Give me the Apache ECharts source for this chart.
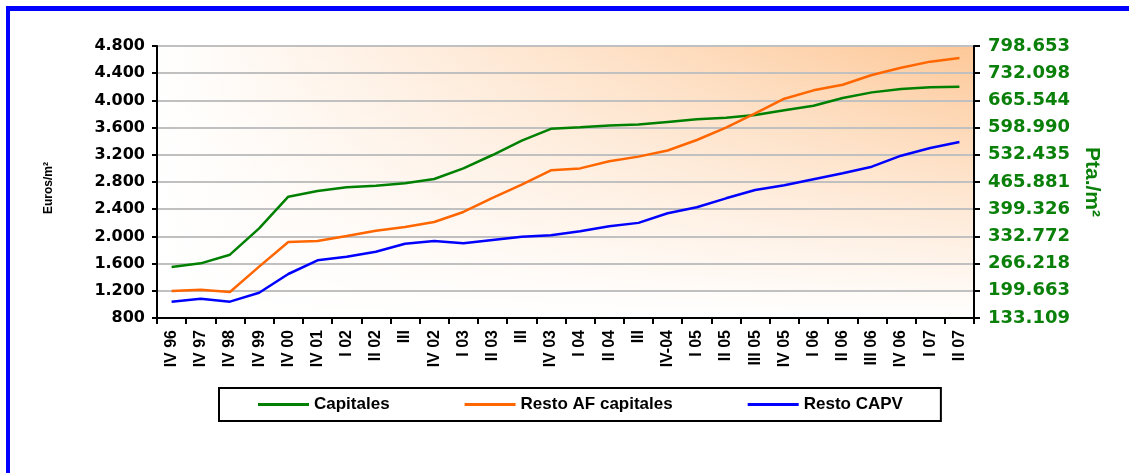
<!DOCTYPE html>
<html>
<head>
<meta charset="utf-8">
<script src="https://cdn.jsdelivr.net/npm/echarts@6/dist/echarts.min.js"></script>
<style>
  html, body { margin: 0; padding: 0; background: #fff; }
  #chart { width: 1129px; height: 473px; }
</style>
</head>
<body>
<div id="chart"></div>
<script>
// trimestres
const categories = ['IV 96', 'IV 97', 'IV 98', 'IV 99', 'IV 00', 'IV 01', 'I 02', 'II 02', 'III', 'IV 02',
  'I 03', 'II 03', 'III', 'IV 03', 'I 04', 'II 04', 'III', 'IV-04', 'I 05', 'II 05', 'III 05', 'IV 05',
  'I 06', 'II 06', 'III 06', 'IV 06', 'I 07', 'II 07']

// euros/m2
const capitales = [1550, 1604, 1731, 2119, 2584, 2668, 2722, 2746, 2781, 2844, 3001, 3197, 3408, 3582,
  3605, 3630, 3645, 3683, 3722, 3746, 3785, 3854, 3922, 4035, 4118, 4167, 4192, 4201]
const restoAF = [1197, 1216, 1182, 1555, 1918, 1932, 2006, 2084, 2138, 2212, 2359, 2565, 2760, 2972,
  3000, 3105, 3173, 3263, 3418, 3599, 3810, 4025, 4148, 4231, 4374, 4481, 4570, 4624]
const restoCAPV = [1040, 1084, 1040, 1172, 1447, 1648, 1701, 1775, 1893, 1932, 1898, 1947, 1994, 2016,
  2075, 2149, 2199, 2340, 2428, 2560, 2682, 2751, 2840, 2928, 3025, 3187, 3300, 3388]

const yMin = 800
const yMax = 4800
const yStep = 400
const PTA_PER_EURO = 166.386

// grid box (px)
const G = { left: 157, top: 46, right: 974, bottom: 318 }
const W = 1129, H = 473

function miles(n) {
  return String(Math.round(n)).replace(/\B(?=(\d{3})+(?!\d))/g, '.')
}

const chart = echarts.init(document.getElementById('chart'))
const ORANGE_BG = '#FDC898'

chart.setOption({
  animation: false,
  backgroundColor: '#fff',
  grid: { left: G.left, top: G.top, right: W - G.right, bottom: H - G.bottom },
  graphic: [
    // fondo degradado del area de trazado
    {
      type: 'rect', z: -20, silent: true,
      shape: { x: G.left, y: G.top, width: G.right - G.left, height: G.bottom - G.top },
      style: {
        fill: new echarts.graphic.LinearGradient(0, 0, 1, 0, [
          { offset: 0, color: '#FFFFFF' },
          { offset: 1, color: ORANGE_BG },
        ]),
      },
    },
    {
      type: 'rect', z: -10, silent: true,
      shape: { x: G.left, y: G.top, width: G.right - G.left, height: G.bottom - G.top },
      style: {
        fill: new echarts.graphic.LinearGradient(0, 0, 0, 1, [
          { offset: 0, color: 'rgba(255,255,255,0)' },
          { offset: 1, color: 'rgba(255,255,255,1)' },
        ]),
      },
    },
    // marco azul
    { type: 'rect', z: 50, silent: true, shape: { x: 6, y: 6, width: W - 6, height: 5 }, style: { fill: '#0000FF' } },
    { type: 'rect', z: 50, silent: true, shape: { x: 6, y: 6, width: 4, height: H - 6 }, style: { fill: '#0000FF' } },
  ],
  legend: {
    left: 219,
    top: 388,
    orient: 'horizontal',
    backgroundColor: '#fff',
    borderColor: '#000',
    borderWidth: 2,
    borderRadius: 0,
    padding: [8, 38, 8, 39],
    itemGap: 75,
    itemWidth: 51,
    itemHeight: 3,
    icon: 'rect',
    textStyle: { fontFamily: 'Liberation Sans', fontWeight: 'bold', fontSize: 17, lineHeight: 17, color: '#000' },
    data: ['Capitales', 'Resto AF capitales', 'Resto CAPV'],
  },
  xAxis: {
    type: 'category',
    data: categories,
    boundaryGap: true,
    axisLine: { lineStyle: { color: '#000', width: 2 } },
    axisTick: { show: true, length: 6, interval: 0, lineStyle: { color: '#000', width: 2 } },
    axisLabel: {
      interval: 0, rotate: 90, margin: 12,
      fontFamily: 'Liberation Sans', fontWeight: 'bold', fontSize: 16, color: '#000',
    },
    splitLine: { show: false },
  },
  yAxis: [
    {
      type: 'value',
      min: yMin, max: yMax, interval: yStep,
      name: 'Euros/m²',
      nameLocation: 'middle',
      nameGap: 102,
      nameRotate: 90,
      nameTextStyle: {
        fontFamily: 'Liberation Sans', fontWeight: 'bold', fontSize: 12, color: '#000',
        padding: [0, 12, 0, 0],
      },
      axisLine: { show: true, lineStyle: { color: '#000', width: 2 } },
      axisTick: { show: true, length: 5, lineStyle: { color: '#000', width: 2 } },
      axisLabel: {
        margin: 12, formatter: v => miles(v),
        fontFamily: 'DejaVu Sans', fontWeight: 'bold', fontSize: 16, color: '#000',
      },
      splitLine: { show: true, lineStyle: { color: '#C0C0C0', width: 2 } },
    },
    {
      type: 'value',
      position: 'right',
      min: yMin, max: yMax, interval: yStep,
      name: 'Pta./m²',
      nameLocation: 'middle',
      nameGap: 101,
      nameRotate: -90,
      nameTextStyle: { fontFamily: 'Liberation Sans', fontWeight: 'bold', fontSize: 21, color: '#0A800A' },
      axisLine: { show: true, lineStyle: { color: '#000', width: 2 } },
      axisTick: { show: true, length: 6, lineStyle: { color: '#000', width: 2 } },
      axisLabel: {
        margin: 14, formatter: v => miles(v * PTA_PER_EURO),
        fontFamily: 'DejaVu Sans', fontWeight: 'bold', fontSize: 18, color: '#0A800A',
      },
      splitLine: { show: false },
    },
  ],
  series: [
    {
      name: 'Capitales', type: 'line', data: capitales, symbol: 'none',
      lineStyle: { color: '#008000', width: 2.5 }, itemStyle: { color: '#008000' },
    },
    {
      name: 'Resto AF capitales', type: 'line', data: restoAF, symbol: 'none',
      lineStyle: { color: '#FF6600', width: 2.5 }, itemStyle: { color: '#FF6600' },
    },
    {
      name: 'Resto CAPV', type: 'line', data: restoCAPV, symbol: 'none',
      lineStyle: { color: '#0000FF', width: 2.5 }, itemStyle: { color: '#0000FF' },
    },
  ],
})
</script>
</body>
</html>
